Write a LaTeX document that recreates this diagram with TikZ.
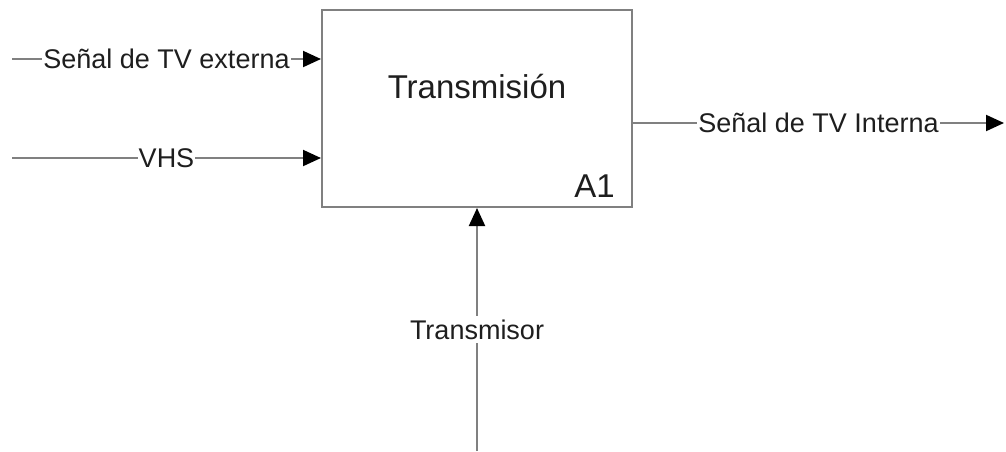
\documentclass[tikz,border=0pt]{standalone}
\usepackage{fontspec}
\setmainfont{Liberation Sans}
\usetikzlibrary{arrows.meta}
\definecolor{linegray}{RGB}{128,128,128}
\definecolor{textdark}{RGB}{30,30,30}
\tikzset{
  flow/.style={draw=linegray, line width=2pt,
    -{Triangle[length=18pt,width=16pt,color=black]}},
  flowlabel/.style={fill=white, inner xsep=1pt, inner ysep=2pt,
    text=textdark, font=\fontsize{27}{32}\selectfont},
  activity/.style={draw=linegray, line width=2pt, fill=white,
    minimum width=310pt, minimum height=197pt, inner sep=0pt}
}
\begin{document}
\begin{tikzpicture}[x=1pt, y=-1pt]
  \useasboundingbox (0,0) rectangle (1006,451);

  % Activity box A1
  \node[activity] (box) at (477,108.5) {};
  \node[font=\fontsize{33}{40}\selectfont, text=textdark] (title) at (477,87) {Transmisión};
  \node[font=\fontsize{33}{40}\selectfont, text=textdark, anchor=south east, inner sep=0pt]
    (num) at ([xshift=-18pt,yshift=10pt]box.south east) {A1};

  % Free ends of the arrows
  \coordinate (in1) at (12,59);
  \coordinate (in2) at (12,158);
  \coordinate (out) at (1004,123);
  \coordinate (mech) at (477,451);

  % Inputs
  \draw[flow] (in1) -- node[flowlabel, pos=0.5] (lab1) {Señal de TV externa} (in1 -| box.west);
  \draw[flow] (in2) -- node[flowlabel, pos=0.5] (lab2) {VHS} (in2 -| box.west);

  % Output
  \draw[flow] (out -| box.east) -- node[flowlabel, pos=0.5] (lab3) {Señal de TV Interna} (out);

  % Mechanism
  \draw[flow] (mech) -- node[flowlabel, pos=0.5, inner ysep=4pt] (lab4) {Transmisor} (mech |- box.south);
\end{tikzpicture}
\end{document}
